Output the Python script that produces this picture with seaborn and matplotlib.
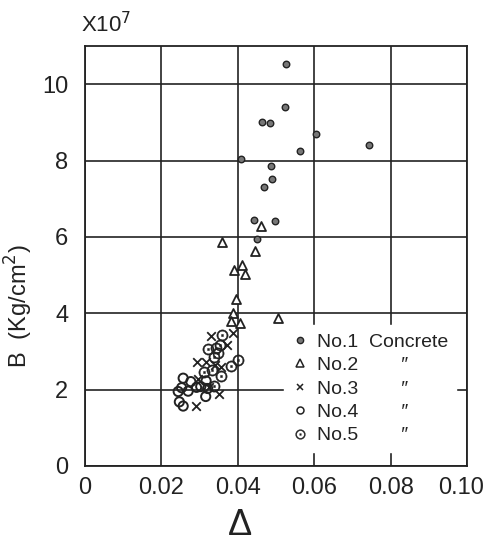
import matplotlib
matplotlib.use("Agg")
import matplotlib.pyplot as plt
import matplotlib.transforms as mtransforms
import seaborn as sns
import pandas as pd
from matplotlib.lines import Line2D

# ---- data ----
no1_x = [0.0526, 0.0524, 0.0464, 0.0485, 0.0605, 0.0563, 0.0408, 0.0487, 0.0490, 0.0469, 0.0743, 0.0442, 0.0497, 0.0451]
no1_y = [10.52, 9.40, 9.01, 8.98, 8.69, 8.25, 8.03, 7.85, 7.52, 7.30, 8.41, 6.43, 6.41, 5.95]

no2_x = [0.0462, 0.0359, 0.0445, 0.0411, 0.0391, 0.0420, 0.0395, 0.0388, 0.0382, 0.0406, 0.0506]
no2_y = [6.29, 5.86, 5.63, 5.27, 5.13, 5.04, 4.37, 4.00, 3.80, 3.75, 3.88]

no3_x = [0.0329, 0.0388, 0.0372, 0.0293, 0.0318, 0.0340, 0.0357, 0.0297, 0.0325, 0.0352, 0.0291]
no3_y = [3.40, 3.49, 3.16, 2.72, 2.73, 2.65, 2.58, 2.28, 2.08, 1.88, 1.56]

no4_x = [0.0257, 0.0277, 0.0253, 0.0244, 0.0270, 0.0292, 0.0303, 0.0317, 0.0321, 0.0316, 0.0247, 0.0257]
no4_y = [2.30, 2.21, 2.05, 1.95, 1.96, 2.06, 2.08, 2.23, 2.03, 1.82, 1.68, 1.57]

no5_x = [0.0358, 0.0321, 0.0342, 0.0353, 0.0349, 0.0339, 0.0332, 0.0312, 0.0356, 0.0382, 0.0401, 0.0338]
no5_y = [3.43, 3.06, 3.08, 3.17, 2.95, 2.86, 2.51, 2.47, 2.36, 2.63, 2.77, 2.09]

x_ticks = [0, 0.02, 0.04, 0.06, 0.08, 0.10]
x_tick_labels = ["0", "0.02", "0.04", "0.06", "0.08", "0.10"]
y_ticks = [0, 2, 4, 6, 8, 10]
y_tick_labels = ["0", "2", "4", "6", "8", "10"]
series_labels = ["No.1  Concrete", "No.2        \u2033", "No.3        \u2033",
                 "No.4        \u2033", "No.5        \u2033"]

sns.set_theme(style="white")
plt.rcParams["font.family"] = ["Liberation Sans", "DejaVu Sans"]
plt.rcParams["mathtext.fontset"] = "dejavusans"

fig = plt.figure(figsize=(4.86, 5.46), dpi=100)
ax = fig.add_axes([85 / 486, 80 / 546, 382 / 486, 420 / 546])

ink = "#222222"

def df(x, y):
    return pd.DataFrame({"x": x, "y": y})

sns.scatterplot(data=df(no1_x, no1_y), x="x", y="y", ax=ax, marker="o", s=22,
                facecolor="#777777", edgecolor=ink, linewidth=1.0, zorder=3)
sns.scatterplot(data=df(no2_x, no2_y), x="x", y="y", ax=ax, marker="^", s=42,
                facecolor="white", edgecolor=ink, linewidth=1.3, zorder=3)
sns.scatterplot(data=df(no3_x, no3_y), x="x", y="y", ax=ax, marker="x", s=38,
                color=ink, linewidth=1.3, zorder=3)
sns.scatterplot(data=df(no4_x, no4_y), x="x", y="y", ax=ax, marker="o", s=44,
                facecolor="none", edgecolor=ink, linewidth=1.4, zorder=3)
sns.scatterplot(data=df(no5_x, no5_y), x="x", y="y", ax=ax, marker=r"$\odot$", s=66,
                color=ink, edgecolor=ink, linewidth=0.35, zorder=3)

ax.set_xlim(0, 0.10)
ax.set_ylim(0, 11)
ax.set_xticks(x_ticks)
ax.set_xticklabels(x_tick_labels)
ax.set_yticks(y_ticks)
ax.set_yticklabels(y_tick_labels)
ax.tick_params(axis="both", length=0, labelsize=17, colors=ink)
ax.tick_params(axis="x", pad=8)
ax.tick_params(axis="y", pad=12)
# nudge the last x tick label so it stays inside the figure
last = ax.get_xticklabels()[-1]
last.set_transform(last.get_transform() + mtransforms.ScaledTranslation(-6 / 100, 0, fig.dpi_scale_trans))

ax.grid(True, color=ink, linewidth=1.2)
ax.set_axisbelow(True)
for sp in ax.spines.values():
    sp.set_color(ink)
    sp.set_linewidth(1.3)

ax.set_xlabel("\u0394", fontsize=26, color=ink)
ax.xaxis.set_label_coords(0.405, -0.1)
ax.set_ylabel("B  (Kg/cm$^2$)", fontsize=17, color=ink)
ax.yaxis.set_label_coords(-0.13, 0.38)

ax.text(-0.01, 1.02, "X10$^7$", transform=ax.transAxes, fontsize=16, color=ink,
        ha="left", va="bottom")

# legend
handles = [
    Line2D([], [], marker="o", linestyle="none", markersize=4.5, markerfacecolor="#777777", markeredgecolor=ink),
    Line2D([], [], marker="^", linestyle="none", markersize=5.5, markerfacecolor="white", markeredgecolor=ink, markeredgewidth=1.1),
    Line2D([], [], marker="x", linestyle="none", markersize=5, color=ink, markeredgewidth=1.1),
    Line2D([], [], marker="o", linestyle="none", markersize=5, markerfacecolor="none", markeredgecolor=ink, markeredgewidth=1.1),
    Line2D([], [], marker=r"$\odot$", linestyle="none", markersize=7, color=ink, markeredgewidth=0.25),
]
leg = ax.legend(handles, series_labels, loc="upper left", bbox_to_anchor=(0.522, 0.335),
                frameon=True, fontsize=14, handlelength=0.8, handletextpad=0.5,
                labelspacing=0.3, borderpad=0.4, borderaxespad=0)
leg.get_frame().set_facecolor("white")
leg.get_frame().set_edgecolor("white")
leg.get_frame().set_alpha(1)
for t in leg.get_texts():
    t.set_color(ink)

fig.savefig("out.png", dpi=100)
